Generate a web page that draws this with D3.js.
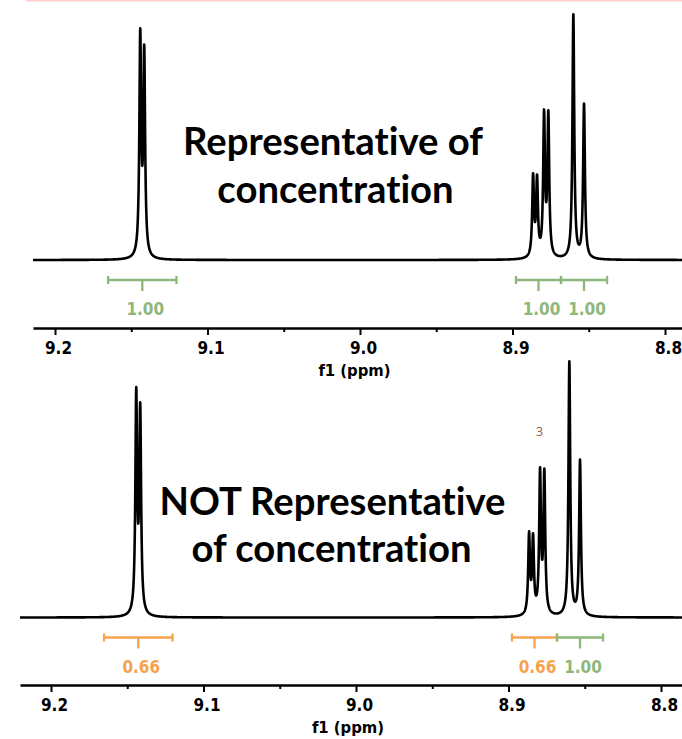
<!DOCTYPE html>
<html>
<head>
<meta charset="utf-8">
<script src="https://cdn.jsdelivr.net/npm/d3@7/dist/d3.min.js"></script>
<style>
  html, body { margin: 0; padding: 0; background: #fff; }
  svg { display: block; }
  text { font-variant-ligatures: none; font-feature-settings: "liga" 0, "clig" 0; }
</style>
</head>
<body>
<svg id="chart" width="682" height="739"></svg>
<script>
// ---------------- DATA ----------------
const peakPpm        = [9.1441, 9.1415, 8.8865, 8.8839, 8.8793, 8.8765, 8.8601, 8.8531];
const topHeights     = [94.3, 87.8, 35.3, 34.9, 61.3, 60.9, 100, 63.8];
const bottomHeights  = [89.9, 84.0, 33.6, 32.9, 58.6, 58.2, 100, 61.7];
const lineHalfWidth  = 0.0007; // ppm (Lorentzian HWHM)
const integralRanges = [[9.1652, 9.1203], [8.8977, 8.8682], [8.8682, 8.8380]];
const topIntegrals    = [1.00, 1.00, 1.00];
const bottomIntegrals = [0.66, 0.66, 1.00];
const majorTicks = [9.2, 9.1, 9.0, 8.9, 8.8];
const minorTicks = [9.15, 9.05, 8.95, 8.85];
const axisTitle = "f1 (ppm)";
const topTitle    = ["Representative of", "concentration"];
const bottomTitle = ["NOT Representative", "of concentration"];
const bottomAnnotation = { ppm: 8.8797, value: 71, text: "3" };

// ---------------- HELPERS ----------------
const GREEN = "#8db77b", ORANGE = "#f6a24c";
const tickFont = "'DejaVu Sans Condensed', 'DejaVu Sans', sans-serif";
const svg = d3.select("#chart");

// pink strip at very top
svg.append("rect").attr("x", 26).attr("y", 0).attr("width", 656).attr("height", 1.6).attr("fill", "#ffd2d2");

function lorentz(x, x0, h) {
  const w2 = lineHalfWidth * lineHalfWidth;
  return h * w2 / ((x - x0) * (x - x0) + w2);
}
// solve amplitudes so that the summed curve reaches the observed peak heights
function solveAmps(heights) {
  let amps = heights.slice();
  for (let it = 0; it < 80; it++) {
    const model = peakPpm.map(p => peakPpm.reduce((s, q, j) => s + lorentz(p, q, amps[j]), 0));
    amps = amps.map((a, i) => a + (heights[i] - model[i]) * 0.8);
  }
  return amps;
}

function drawPanel(cfg) {
  const g = svg.append("g");
  const x0 = d3.scaleLinear().domain([9.2, 8.8]).range([cfg.x92, cfg.x88]);
  const x = d3.scaleLinear().domain([x0.invert(cfg.axisLeft), x0.invert(682)]).range([cfg.axisLeft, 682]);
  const y = d3.scaleLinear().domain([0, 100]).range([cfg.baseline, cfg.top]);

  const amps = solveAmps(cfg.heights);
  const [pa, pb] = x.domain();
  const pts = d3.range(pa, pb, -0.00008).concat([pb]);
  const curve = pts.map(p => [p, peakPpm.reduce((s, q, j) => s + lorentz(p, q, amps[j]), 0)]);

  g.append("path")
    .datum(curve)
    .attr("fill", "none")
    .attr("stroke", "#000")
    .attr("stroke-width", 2.6)
    .attr("stroke-linejoin", "round")
    .attr("d", d3.line().x(d => x(d[0])).y(d => y(d[1])));

  // integrals
  cfg.integrals.forEach((v, i) => {
    const [a, b] = integralRanges[i];
    const col = v < 1 ? ORANGE : GREEN;
    const xa = x(a), xb = x(b), xm = (xa + xb) / 2, by = cfg.intY;
    const ig = g.append("g").attr("stroke", col).attr("stroke-width", 2.3);
    ig.append("line").attr("x1", xa).attr("x2", xb).attr("y1", by).attr("y2", by);
    ig.append("line").attr("x1", xa).attr("x2", xa).attr("y1", by - 4).attr("y2", by + 4);
    ig.append("line").attr("x1", xb).attr("x2", xb).attr("y1", by - 4).attr("y2", by + 4);
    ig.append("line").attr("x1", xm).attr("x2", xm).attr("y1", by).attr("y2", by + 11);
    g.append("text")
      .attr("x", xm + 3).attr("y", by + 35)
      .attr("text-anchor", "middle")
      .attr("font-family", tickFont).attr("font-weight", "bold").attr("font-size", 17)
      .attr("fill", col)
      .text(v.toFixed(2));
  });

  // axis
  const ax = g.append("g").attr("transform", `translate(0,${cfg.axisY})`);
  ax.call(d3.axisBottom(x).tickValues(majorTicks).tickSize(7).tickSizeOuter(0).tickFormat(d3.format(".1f")));
  ax.select(".domain").attr("stroke", "#000").attr("stroke-width", 2.7);
  ax.selectAll(".tick line").attr("stroke", "#000").attr("stroke-width", 2);
  ax.selectAll(".tick text")
    .attr("y", 26).attr("dy", 0).attr("dx", 3)
    .attr("font-family", tickFont).attr("font-weight", "bold").attr("font-size", 17)
    .attr("fill", "#000");
  const axm = g.append("g").attr("transform", `translate(0,${cfg.axisY})`);
  axm.call(d3.axisBottom(x).tickValues(minorTicks).tickSize(4).tickSizeOuter(0).tickFormat(""));
  axm.select(".domain").remove();
  axm.selectAll(".tick line").attr("stroke", "#000").attr("stroke-width", 2);

  g.append("text")
    .attr("x", (cfg.axisLeft + 682) / 2 - 3).attr("y", cfg.axisY + 47.5)
    .attr("text-anchor", "middle")
    .attr("font-family", tickFont).attr("font-weight", "bold").attr("font-size", 16.5)
    .attr("fill", "#000")
    .text(axisTitle);

  cfg.title.forEach((t, i) => {
    g.append("text")
      .attr("class", "title")
      .attr("x", cfg.titleX[i]).attr("y", cfg.titleY[i])
      .attr("text-anchor", "middle")
      .attr("font-family", "Lato, 'Open Sans', sans-serif").attr("font-weight", "bold")
      .attr("font-size", 40)
      .attr("fill", "#000")
      .text(t);
  });

  if (cfg.annotation) {
    g.append("text")
      .attr("x", x(cfg.annotation.ppm)).attr("y", y(cfg.annotation.value))
      .attr("text-anchor", "middle")
      .attr("font-family", "'Open Sans', sans-serif").attr("font-size", 12.5)
      .attr("fill", "#9c5a35")
      .text(cfg.annotation.text);
  }
}

drawPanel({
  x92: 55, x88: 665, axisLeft: 33,
  baseline: 260, top: 14.3,
  heights: topHeights, integrals: topIntegrals,
  intY: 280, axisY: 328,
  title: topTitle, titleX: [333, 335.5], titleY: [155, 203]
});
drawPanel({
  x92: 51, x88: 661, axisLeft: 20,
  baseline: 617.5, top: 361.3,
  heights: bottomHeights, integrals: bottomIntegrals,
  intY: 637.5, axisY: 685,
  title: bottomTitle, titleX: [332.5, 331.5], titleY: [515, 562],
  annotation: bottomAnnotation
});

const titles = svg.selectAll("text.title");
const firstLen = titles.filter(function() { return this.textContent === topTitle[0]; }).node().getComputedTextLength();
const fs = 40 * 300 / firstLen;
titles.attr("font-size", fs);
</script>
</body>
</html>
